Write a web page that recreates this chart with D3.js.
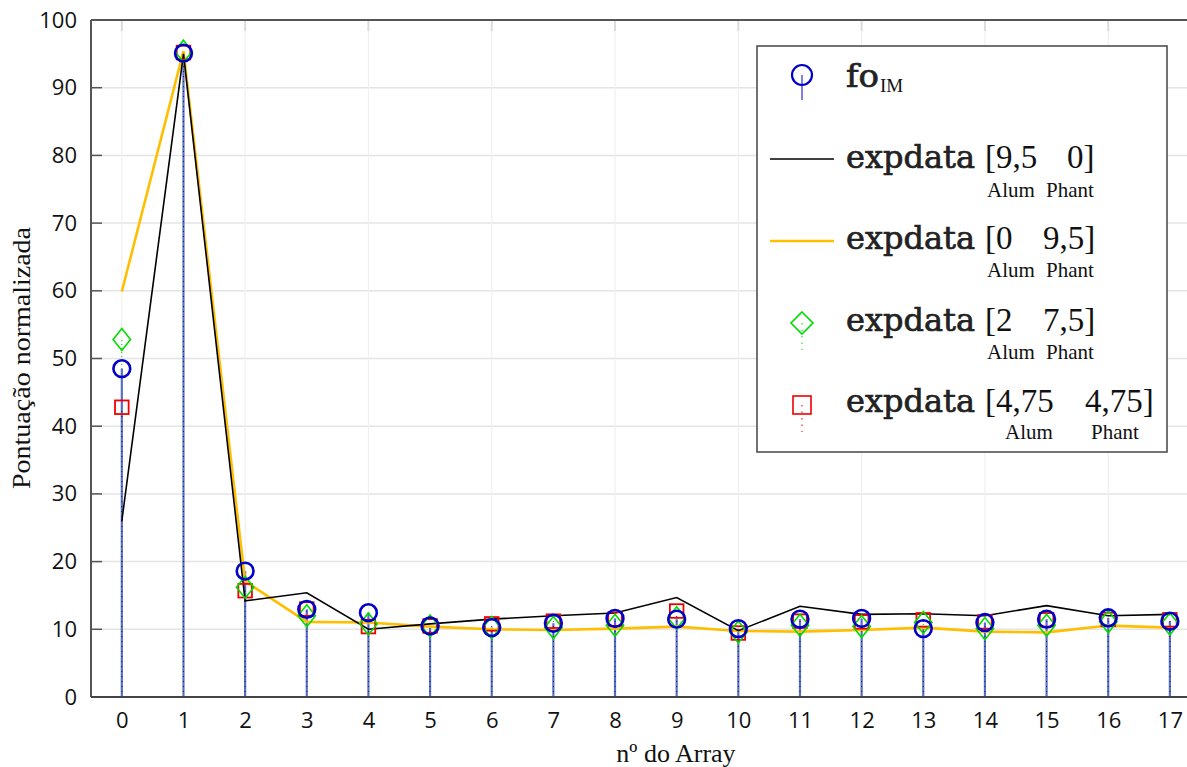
<!DOCTYPE html>
<html>
<head>
<meta charset="utf-8">
<script src="https://cdn.jsdelivr.net/npm/d3@7"></script>
<style>
  html, body { margin: 0; padding: 0; background: #fff; }
  svg { display: block; }
</style>
</head>
<body>
<svg id="chart" width="1187" height="767"></svg>
<script>
// ---- data ----
const arrays = [0,1,2,3,4,5,6,7,8,9,10,11,12,13,14,15,16,17];
const xTicks = arrays;
const yTicks = [0,10,20,30,40,50,60,70,80,90,100];
const foIM      = [48.5, 95.1, 18.6, 12.95, 12.45, 10.5, 10.25, 10.9, 11.6, 11.5, 10.1, 11.5, 11.6, 10.1, 11.0, 11.5, 11.7, 11.2];
const exp95_0   = [26.0, 95.0, 14.2, 15.4, 10.0, 10.8, 11.5, 12.0, 12.4, 14.7, 9.8, 13.4, 12.2, 12.3, 12.0, 13.5, 12.0, 12.2];
const exp0_95   = [59.9, 95.4, 17.1, 11.1, 11.0, 10.4, 10.0, 9.9, 10.1, 10.4, 9.75, 9.65, 9.9, 10.25, 9.65, 9.55, 10.55, 10.25];
const exp2_75   = [52.8, 95.4, 16.2, 12.0, 10.8, 10.5, 10.25, 10.25, 10.6, 11.7, 9.6, 10.6, 10.4, 11.0, 10.1, 10.6, 11.1, 10.8];
const exp475    = [42.8, 95.2, 15.7, 13.0, 10.4, 10.5, 10.8, 11.2, 11.5, 12.7, 9.45, 11.2, 11.1, 11.4, 11.1, 11.4, 11.45, 11.4];

const svg = d3.select("#chart");
const plotL = 91, plotT = 20, plotB = 697;
const unit = 61.65;
const x = d3.scaleLinear().domain([-0.5, 17.5]).range([plotL, plotL + 18 * unit]);
const y = d3.scaleLinear().domain([0, 100]).range([plotB, plotT]);
const W = 1187;

// gridlines
const grid = svg.append("g");
grid.selectAll("line.h").data(yTicks.slice(1)).enter().append("line")
  .attr("x1", plotL).attr("x2", W).attr("y1", d => y(d)).attr("y2", d => y(d))
  .attr("stroke", "#e4e4e4").attr("stroke-width", 1.5);
grid.selectAll("line.v").data(xTicks.filter(d => d % 2 === 0)).enter().append("line")
  .attr("x1", d => x(d)).attr("x2", d => x(d)).attr("y1", plotT).attr("y2", plotB)
  .attr("stroke", "#f0f0f0").attr("stroke-width", 1.2);
grid.selectAll("line.tt").data(xTicks.filter(d => d % 2 === 0)).enter().append("line")
  .attr("x1", d => x(d)).attr("x2", d => x(d)).attr("y1", plotT).attr("y2", plotT + 11)
  .attr("stroke", "#dcdcdc").attr("stroke-width", 2);

// stems
const stems = svg.append("g");
stems.selectAll("line.b").data(foIM).enter().append("line")
  .attr("x1", (d,i) => x(arrays[i])).attr("x2", (d,i) => x(arrays[i]))
  .attr("y1", y(0)).attr("y2", d => y(d))
  .attr("stroke", "#3d3dd6").attr("stroke-opacity", 0.8).attr("stroke-width", 2.2);
stems.selectAll("line.g").data(exp2_75).enter().append("line")
  .attr("x1", (d,i) => x(arrays[i])).attr("x2", (d,i) => x(arrays[i]))
  .attr("y1", y(0)).attr("y2", d => y(d))
  .attr("stroke", "#00cc00").attr("stroke-width", 1).attr("stroke-dasharray", "1,3");
stems.selectAll("line.r").data(exp475).enter().append("line")
  .attr("x1", (d,i) => x(arrays[i])).attr("x2", (d,i) => x(arrays[i]))
  .attr("y1", y(0)).attr("y2", d => y(d))
  .attr("stroke", "#1a1a60").attr("stroke-width", 1).attr("stroke-dasharray", "1,4");

// lines
const line = d3.line().x((d,i) => x(arrays[i])).y(d => y(d));
svg.append("path").datum(exp0_95).attr("d", line)
  .attr("fill", "none").attr("stroke", "#ffbf00").attr("stroke-width", 2.6);
svg.append("path").datum(exp95_0).attr("d", line)
  .attr("fill", "none").attr("stroke", "#000").attr("stroke-width", 1.6);

// markers
const sq = 6.8;
svg.append("g").selectAll("rect").data(exp475).enter().append("rect")
  .attr("x", (d,i) => x(arrays[i]) - sq).attr("y", d => y(d) - sq)
  .attr("width", 2*sq).attr("height", 2*sq)
  .attr("fill", "none").attr("stroke", "#ee0000").attr("stroke-width", 1.8);
const dw = 8.7, dh = 11;
svg.append("g").selectAll("path").data(exp2_75).enter().append("path")
  .attr("d", (d,i) => { const cx = x(arrays[i]), cy = y(d);
    return `M${cx},${cy-dh}L${cx+dw},${cy}L${cx},${cy+dh}L${cx-dw},${cy}Z`; })
  .attr("fill", "none").attr("stroke", "#00dd00").attr("stroke-width", 1.6);
svg.append("g").selectAll("circle").data(foIM).enter().append("circle")
  .attr("cx", (d,i) => x(arrays[i])).attr("cy", d => y(d)).attr("r", 8.4)
  .attr("fill", "none").attr("stroke", "#0000c8").attr("stroke-width", 2.6);

// axes
const yAxis = d3.axisLeft(y).tickValues(yTicks).tickSize(0).tickPadding(14);
const gy = svg.append("g").attr("transform", `translate(${plotL},0)`).call(yAxis);
gy.select(".domain").remove();
gy.selectAll("text").attr("font-family", "'Open Sans', sans-serif").attr("font-size", 22).attr("fill", "#111");
const xAxis = d3.axisBottom(x).tickValues(xTicks).tickSize(0).tickPadding(15);
const gx = svg.append("g").attr("transform", `translate(0,${plotB})`).call(xAxis);
gx.select(".domain").remove();
gx.selectAll("text").attr("font-family", "'Open Sans', sans-serif").attr("font-size", 22).attr("fill", "#111");

// inward y ticks
svg.append("g").selectAll("line").data(yTicks).enter().append("line")
  .attr("x1", plotL).attr("x2", plotL + 11).attr("y1", d => y(d)).attr("y2", d => y(d))
  .attr("stroke", "#555").attr("stroke-width", 1.5);

// frame
svg.append("line").attr("x1", plotL).attr("x2", plotL).attr("y1", plotT).attr("y2", plotB)
  .attr("stroke", "#555").attr("stroke-width", 2);
svg.append("line").attr("x1", plotL).attr("x2", W).attr("y1", plotB).attr("y2", plotB)
  .attr("stroke", "#444").attr("stroke-width", 2);
svg.append("line").attr("x1", plotL).attr("x2", W).attr("y1", plotT).attr("y2", plotT)
  .attr("stroke", "#555").attr("stroke-width", 2);

// axis titles
svg.append("text").attr("x", 676).attr("y", 762).attr("text-anchor", "middle")
  .attr("font-family", "'Liberation Serif', serif").attr("font-size", 26).attr("fill", "#111")
  .text("nº do Array");
svg.append("text").attr("transform", "translate(30,358) rotate(-90)").attr("text-anchor", "middle")
  .attr("font-family", "'Liberation Serif', serif").attr("font-size", 25).attr("fill", "#111")
  .attr("textLength", 262).attr("lengthAdjust", "spacingAndGlyphs")
  .text("Pontuação normalizada");

// legend
const lg = svg.append("g");
lg.append("rect").attr("x", 757).attr("y", 46).attr("width", 410).attr("height", 406)
  .attr("fill", "#fff").attr("stroke", "#444").attr("stroke-width", 1.5);
const mx = 802;
lg.append("line").attr("x1", mx).attr("x2", mx).attr("y1", 75).attr("y2", 100)
  .attr("stroke", "#5555dd").attr("stroke-width", 1.5);
lg.append("circle").attr("cx", mx).attr("cy", 75).attr("r", 10)
  .attr("fill", "none").attr("stroke", "#0000c8").attr("stroke-width", 2.2);
const big = { "font-family": "'DejaVu Serif', serif", "font-size": 31, "fill": "#222", "stroke": "#222", "stroke-width": 0.7 };
const ser = { "font-family": "'Liberation Serif', serif", "fill": "#111" };
function txt(xx, yy, s, attrs, size) {
  const t = lg.append("text").attr("x", xx).attr("y", yy).text(s);
  Object.entries(attrs).forEach(([k,v]) => t.attr(k, v));
  if (size) t.attr("font-size", size);
  return t;
}
txt(846, 87, "fo", big).attr("textLength", 33).attr("lengthAdjust", "spacingAndGlyphs");
txt(880, 92, "IM", ser, 19);

const entries = [
  { y: 168, a: "[9,5", b: "0]", bx: 1067, sub: 197, s1x: 987, s2x: 1046 },
  { y: 249, a: "[0", b: "9,5]", bx: 1043, sub: 277, s1x: 987, s2x: 1046 },
  { y: 331, a: "[2", b: "7,5]", bx: 1043, sub: 359, s1x: 987, s2x: 1046 },
  { y: 412, a: "[4,75", b: "4,75]", bx: 1085, sub: 439, s1x: 1005, s2x: 1091 }
];
entries.forEach(e => {
  txt(846, e.y, "expdata", big).attr("textLength", 129).attr("lengthAdjust", "spacingAndGlyphs");
  txt(985, e.y, e.a, ser, 33);
  txt(e.bx, e.y, e.b, ser, 33);
  txt(e.s1x, e.sub, "Alum", ser, 21);
  txt(e.s2x, e.sub, "Phant", ser, 21);
});
lg.append("line").attr("x1", 770).attr("x2", 834).attr("y1", 159).attr("y2", 159)
  .attr("stroke", "#000").attr("stroke-width", 1.6);
lg.append("line").attr("x1", 770).attr("x2", 834).attr("y1", 241).attr("y2", 241)
  .attr("stroke", "#ffbf00").attr("stroke-width", 2.4);
lg.append("line").attr("x1", mx).attr("x2", mx).attr("y1", 323).attr("y2", 350)
  .attr("stroke", "#33dd33").attr("stroke-width", 1.2).attr("stroke-dasharray", "1.5,5");
lg.append("path").attr("d", `M${mx},${323-11}L${mx+11},323L${mx},${323+11}L${mx-11},323Z`)
  .attr("fill", "none").attr("stroke", "#00dd00").attr("stroke-width", 1.6);
lg.append("line").attr("x1", mx).attr("x2", mx).attr("y1", 405).attr("y2", 432)
  .attr("stroke", "#ee3333").attr("stroke-width", 1.2).attr("stroke-dasharray", "1.5,5");
lg.append("rect").attr("x", mx - 9).attr("y", 405 - 9).attr("width", 18).attr("height", 18)
  .attr("fill", "none").attr("stroke", "#ee0000").attr("stroke-width", 1.6);
</script>
</body>
</html>
